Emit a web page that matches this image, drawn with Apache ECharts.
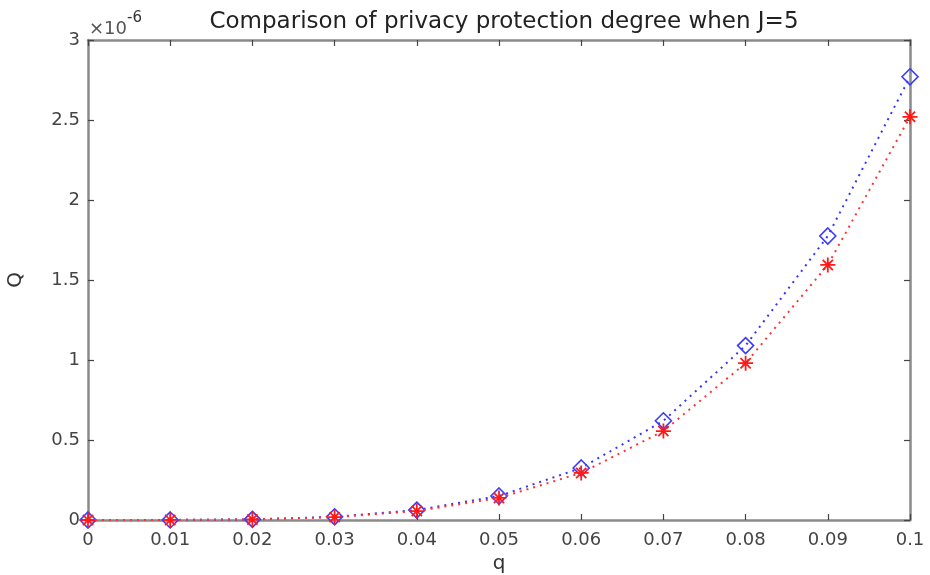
<!DOCTYPE html>
<html>
<head>
<meta charset="utf-8">
<script src="https://cdn.jsdelivr.net/npm/echarts@6/dist/echarts.min.js"></script>
<style>html,body{margin:0;padding:0;background:#fff}#c{width:930px;height:575px}</style>
</head>
<body>
<div id="c"></div>
<script>
var qValues = [0, 0.01, 0.02, 0.03, 0.04, 0.05, 0.06, 0.07, 0.08, 0.09, 0.1];
var blueValues = [0, 0.0003, 0.004, 0.02, 0.062, 0.15, 0.325, 0.62, 1.09, 1.775, 2.77];
var redValues = [0, 0.0003, 0.0035, 0.018, 0.056, 0.138, 0.294, 0.556, 0.98, 1.594, 2.52];
var xTickLabels = ['0', '0.01', '0.02', '0.03', '0.04', '0.05', '0.06', '0.07', '0.08', '0.09', '0.1'];
var yTickLabels = ['0', '0.5', '1', '1.5', '2', '2.5', '3'];
var titleText = 'Comparison of privacy protection degree when J=5';

var font = 'DejaVu Sans, Liberation Sans, Arial, sans-serif';
var axisGray = '#8a8a8a';
var tickCol = '#444';
var asterisk = 'path://M0,5L10,5M5,0L5,10M1.6,1.6L8.4,8.4M8.4,1.6L1.6,8.4';

function pairs(ys){ return qValues.map(function(q,i){ return [q, ys[i]]; }); }

var chart = echarts.init(document.getElementById('c'), null, {renderer:'canvas'});
chart.setOption({
  animation:false,
  backgroundColor:'#fff',
  title:{text:titleText, left:499, top:6, textAlign:'center',
    textStyle:{fontFamily:font, fontSize:23, fontWeight:'normal', color:'#222'}},
  grid:{left:88, right:20, top:40, bottom:55, containLabel:false, outerBoundsMode:'none'},
  graphic:[{type:'text', left:89, top:11, style:{
    text:'{a|×10}{b|-6}', rich:{a:{fontFamily:font, fontSize:18, fill:'#555', padding:[9,0,0,0]},
      b:{fontFamily:font, fontSize:15, fill:'#333', verticalAlign:'top'}}}}],
  xAxis:[{type:'value', min:0, max:0.1, interval:0.01, position:'bottom',
    name:'q', nameLocation:'middle', nameGap:31,
    nameTextStyle:{fontFamily:font, fontSize:20, color:'#333'},
    axisLine:{show:true, onZero:false, lineStyle:{color:axisGray, width:2.5}},
    axisTick:{show:true, inside:true, length:6, lineStyle:{color:tickCol, width:1.2}},
    axisLabel:{fontFamily:font, fontSize:18, color:'#444', margin:11,
      formatter:function(v,i){return xTickLabels[i];}},
    splitLine:{show:false}},
   {type:'value', min:0, max:0.1, interval:0.01, position:'top',
    axisLine:{show:true, onZero:false, lineStyle:{color:axisGray, width:2.5}},
    axisTick:{show:true, inside:true, length:6, lineStyle:{color:tickCol, width:1.2}},
    axisLabel:{show:false}, splitLine:{show:false}}],
  yAxis:[{type:'value', min:0, max:3, interval:0.5, position:'left',
    name:'Q', nameLocation:'middle', nameGap:62, nameRotate:90,
    nameTextStyle:{fontFamily:font, fontSize:20, color:'#333'},
    axisLine:{show:true, onZero:false, lineStyle:{color:axisGray, width:2.5}},
    axisTick:{show:true, inside:true, length:6, lineStyle:{color:tickCol, width:1.2}},
    axisLabel:{fontFamily:font, fontSize:18, color:'#444', margin:8,
      formatter:function(v,i){return yTickLabels[i];}},
    splitLine:{show:false}},
   {type:'value', min:0, max:3, interval:0.5, position:'right',
    axisLine:{show:true, onZero:false, lineStyle:{color:axisGray, width:2.5}},
    axisTick:{show:true, inside:true, length:6, lineStyle:{color:tickCol, width:1.2}},
    axisLabel:{show:false}, splitLine:{show:false}}],
  series:[
    {type:'line', name:'blue', data:pairs(blueValues), clip:false, z:3,
      symbol:'diamond', symbolSize:[16,16], showAllSymbol:true,
      lineStyle:{color:'#3333ff', type:[2,5], width:2},
      itemStyle:{color:'rgba(0,0,0,0)', borderColor:'#3a3aff', borderWidth:1.6}},
    {type:'line', name:'red', data:pairs(redValues), clip:false, z:4,
      symbol:asterisk, symbolSize:[15,15], showAllSymbol:true,
      lineStyle:{color:'#ff3333', type:[2,5], width:2},
      itemStyle:{color:'rgba(0,0,0,0)', borderColor:'#ff1a1a', borderWidth:1.8}}
  ]
});
</script>
</body>
</html>
